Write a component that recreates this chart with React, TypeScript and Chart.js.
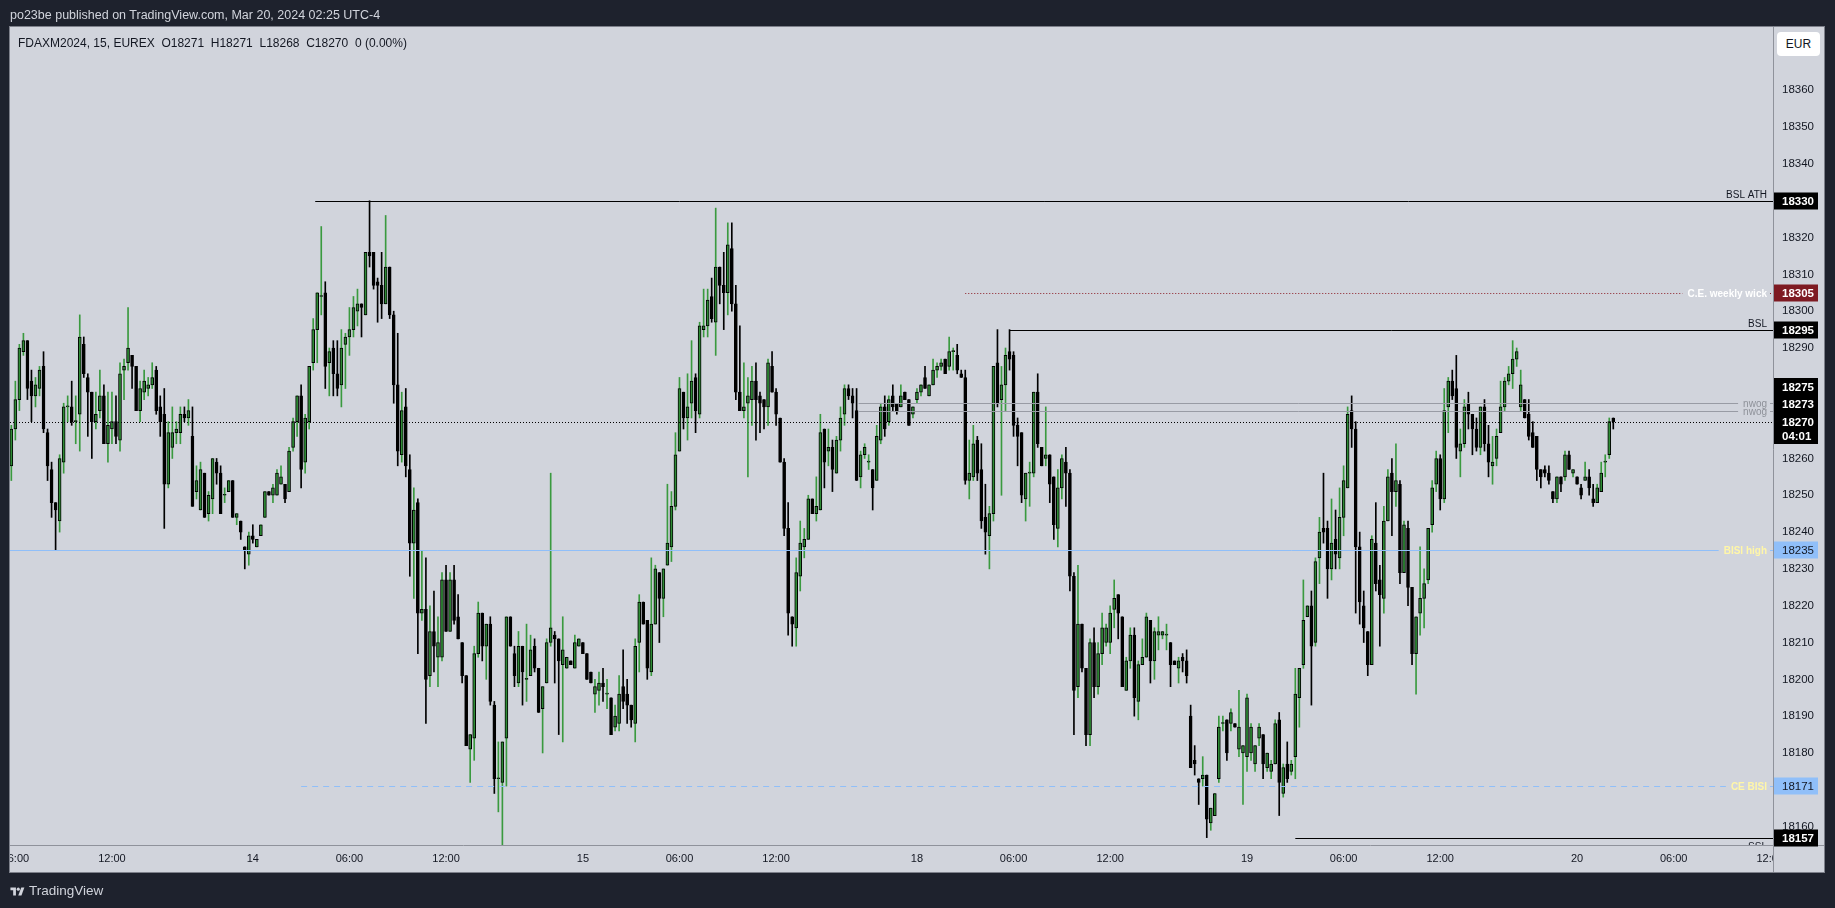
import React, { useEffect, useRef } from "react";
import { Chart, registerables } from "chart.js";

Chart.register(...registerables);

// ---- 15-minute OHLC bars, FDAXM2024 (Mar 13 06:00 -> Mar 20 02:15, UTC-4) ----
const OPEN = [
  18258,18268,18276,18289,18292,18281,18277,18279,18285,18267,
  18257,18248,18243,18259,18274,18274,18270,18272,18291,18282,
  18278,18270,18273,18277,18264,18268,18270,18265,18284,18286,
  18288,18285,18273,18278,18279,18280,18284,18274,18272,18253,
  18263,18267,18267,18272,18271,18266,18251,18246,18256,18245,
  18249,18259,18256,18250,18251,18254,18244,18243,18236,18234,
  18239,18236,18239,18244,18251,18250,18250,18253,18253,18251,
  18263,18270,18277,18259,18270,18286,18295,18304,18305,18286,
  18290,18283,18280,18291,18293,18295,18300,18302,18299,18316,
  18316,18308,18307,18302,18312,18299,18280,18261,18274,18257,
  18237,18248,18218,18219,18201,18213,18206,18206,18227,18213,
  18227,18217,18210,18201,18181,18184,18207,18218,18209,18215,
  18193,18173,18172,18184,18217,18207,18199,18209,18200,18201,
  18209,18203,18192,18199,18210,18212,18211,18204,18203,18205,
  18203,18209,18210,18207,18202,18196,18197,18199,18196,18195,
  18187,18188,18198,18196,18193,18188,18210,18221,18216,18202,
  18215,18229,18222,18231,18236,18247,18262,18278,18271,18275,
  18282,18272,18295,18296,18304,18297,18312,18307,18305,18317,
  18302,18278,18273,18275,18276,18281,18277,18276,18274,18285,
  18278,18271,18259,18241,18217,18214,18228,18236,18238,18249,
  18245,18246,18268,18262,18263,18256,18265,18272,18279,18277,
  18273,18255,18261,18259,18257,18254,18265,18274,18270,18277,
  18275,18274,18278,18276,18272,18276,18278,18282,18277,18280,
  18284,18285,18287,18285,18289,18288,18283,18282,18254,18255,
  18265,18257,18244,18239,18245,18286,18276,18280,18289,18288,
  18269,18267,18249,18256,18256,18278,18263,18260,18261,18255,
  18241,18252,18259,18256,18228,18198,18215,18203,18185,18210,
  18198,18207,18210,18210,18219,18223,18217,18197,18205,18212,
  18194,18204,18206,18216,18205,18212,18212,18212,18210,18205,
  18203,18206,18205,18190,18178,18173,18173,18174,18161,18163,
  18173,18188,18189,18188,18188,18181,18180,18179,18180,18177,
  18184,18185,18176,18175,18177,18189,18169,18177,18175,18179,
  18195,18204,18217,18220,18210,18233,18241,18241,18230,18238,
  18233,18244,18252,18273,18268,18236,18220,18213,18204,18237,
  18227,18222,18243,18256,18251,18253,18229,18241,18225,18207,
  18218,18222,18227,18242,18253,18260,18249,18274,18281,18279,
  18262,18264,18275,18272,18268,18263,18274,18264,18258,18260,
  18267,18274,18281,18283,18287,18274,18276,18272,18267,18266,
  18257,18257,18256,18251,18249,18255,18255,18261,18256,18255,
  18252,18254,18255,18249,18248,18251,18259,18261,18271,
];
const HIGH = [
  18269,18281,18291,18294,18292,18284,18282,18285,18289,18268,
  18259,18248,18261,18275,18277,18281,18277,18299,18293,18283,
  18278,18278,18284,18280,18278,18278,18277,18286,18287,18301,
  18288,18285,18281,18284,18282,18286,18285,18277,18279,18270,
  18274,18270,18274,18274,18276,18274,18258,18259,18256,18251,
  18260,18260,18258,18252,18254,18254,18245,18243,18236,18240,
  18242,18238,18242,18251,18251,18253,18257,18258,18253,18263,
  18271,18277,18280,18272,18285,18298,18305,18323,18308,18290,
  18292,18292,18295,18294,18301,18304,18306,18302,18316,18330,
  18316,18309,18316,18326,18312,18300,18294,18278,18279,18261,
  18252,18249,18235,18233,18220,18224,18217,18229,18231,18229,
  18231,18223,18210,18201,18185,18209,18221,18218,18215,18217,
  18194,18183,18183,18217,18217,18209,18213,18209,18215,18212,
  18211,18203,18198,18211,18256,18213,18211,18217,18206,18205,
  18212,18211,18210,18207,18202,18200,18202,18203,18200,18195,
  18193,18201,18208,18200,18193,18211,18223,18221,18216,18233,
  18231,18229,18230,18253,18251,18267,18282,18278,18283,18292,
  18283,18297,18306,18306,18309,18328,18312,18316,18324,18324,
  18307,18296,18286,18282,18285,18286,18278,18276,18287,18289,
  18279,18271,18260,18248,18217,18233,18243,18241,18250,18249,
  18255,18272,18268,18268,18265,18266,18274,18280,18280,18279,
  18279,18262,18264,18261,18257,18269,18275,18277,18277,18280,
  18275,18280,18278,18276,18274,18279,18280,18285,18280,18287,
  18286,18287,18287,18293,18290,18291,18284,18284,18265,18269,
  18266,18264,18253,18247,18285,18295,18285,18290,18295,18289,
  18271,18267,18256,18259,18278,18283,18263,18274,18261,18255,
  18257,18261,18263,18257,18229,18231,18215,18203,18211,18214,
  18210,18218,18215,18220,18227,18223,18217,18206,18214,18214,
  18205,18211,18218,18216,18214,18217,18213,18215,18210,18205,
  18206,18207,18208,18193,18182,18173,18179,18174,18165,18169,
  18190,18190,18189,18192,18188,18197,18182,18196,18188,18182,
  18188,18185,18180,18178,18189,18191,18177,18183,18178,18203,
  18203,18227,18220,18224,18233,18244,18256,18243,18249,18246,
  18252,18258,18274,18277,18270,18240,18224,18213,18239,18248,
  18231,18247,18257,18260,18264,18254,18243,18243,18225,18217,
  18236,18230,18241,18254,18262,18261,18279,18282,18284,18288,
  18268,18276,18278,18272,18271,18274,18276,18269,18266,18268,
  18281,18282,18285,18292,18290,18284,18276,18276,18270,18266,
  18257,18258,18258,18251,18255,18255,18262,18262,18257,18255,
  18253,18259,18257,18253,18253,18259,18261,18271,18271,
];
const LOW = [
  18254,18265,18273,18288,18276,18270,18274,18277,18267,18254,
  18244,18235,18240,18256,18270,18269,18264,18262,18282,18266,
  18260,18268,18271,18264,18259,18264,18264,18262,18276,18284,
  18279,18273,18270,18276,18277,18279,18272,18266,18241,18252,
  18260,18264,18264,18270,18269,18247,18249,18246,18244,18243,
  18245,18253,18245,18248,18251,18244,18242,18238,18230,18231,
  18237,18236,18239,18244,18250,18248,18250,18253,18248,18251,
  18262,18266,18252,18256,18268,18284,18286,18299,18279,18277,
  18277,18277,18274,18279,18288,18293,18296,18293,18299,18312,
  18306,18297,18298,18302,18298,18275,18258,18259,18255,18228,
  18222,18207,18216,18188,18198,18202,18198,18205,18213,18213,
  18215,18211,18199,18182,18172,18178,18206,18205,18200,18193,
  18169,18164,18155,18171,18209,18198,18198,18193,18194,18201,
  18202,18191,18180,18199,18209,18199,18185,18183,18203,18204,
  18203,18209,18207,18200,18199,18191,18193,18194,18192,18185,
  18186,18186,18192,18188,18187,18183,18202,18215,18200,18201,
  18215,18210,18217,18231,18232,18246,18262,18268,18265,18271,
  18267,18271,18293,18293,18297,18288,18302,18295,18299,18300,
  18276,18273,18271,18255,18269,18265,18267,18268,18269,18278,
  18269,18259,18239,18212,18209,18209,18224,18233,18238,18245,
  18243,18246,18252,18258,18251,18256,18262,18269,18276,18271,
  18254,18252,18260,18257,18246,18254,18264,18266,18269,18273,
  18272,18274,18276,18269,18271,18275,18277,18279,18277,18280,
  18282,18284,18283,18284,18284,18283,18282,18253,18249,18254,
  18254,18241,18234,18230,18243,18274,18250,18273,18284,18266,
  18258,18248,18243,18247,18255,18263,18258,18258,18248,18238,
  18236,18249,18247,18224,18185,18195,18202,18182,18182,18195,
  18196,18204,18209,18207,18214,18211,18198,18197,18203,18190,
  18189,18204,18206,18199,18200,18208,18211,18208,18198,18204,
  18199,18202,18199,18176,18174,18166,18171,18157,18159,18163,
  18172,18186,18178,18186,18187,18179,18166,18175,18178,18175,
  18182,18173,18175,18173,18177,18163,18168,18172,18174,18173,
  18187,18203,18217,18193,18209,18226,18237,18222,18227,18230,
  18230,18239,18252,18263,18218,18215,18210,18201,18204,18224,
  18209,18218,18243,18239,18247,18226,18229,18220,18204,18196,
  18212,18214,18226,18240,18251,18246,18248,18267,18276,18260,
  18255,18263,18268,18261,18262,18261,18262,18255,18253,18258,
  18267,18273,18280,18279,18285,18273,18271,18265,18263,18254,
  18252,18255,18253,18248,18248,18251,18254,18257,18255,18253,
  18249,18254,18250,18247,18248,18251,18255,18260,18268,
];
const CLOSE = [
  18268,18276,18290,18292,18279,18277,18280,18284,18268,18258,
  18248,18246,18260,18274,18274,18270,18270,18293,18283,18278,
  18270,18272,18277,18264,18269,18270,18266,18283,18285,18290,
  18285,18273,18279,18281,18280,18282,18273,18270,18253,18267,
  18267,18268,18272,18271,18273,18247,18254,18257,18244,18250,
  18260,18256,18245,18250,18254,18244,18245,18240,18235,18239,
  18238,18238,18242,18251,18250,18252,18256,18255,18249,18262,
  18270,18277,18257,18271,18285,18295,18305,18304,18285,18289,
  18283,18279,18290,18293,18295,18301,18302,18301,18316,18315,
  18307,18307,18302,18312,18299,18280,18262,18273,18258,18237,
  18246,18218,18219,18200,18213,18209,18210,18227,18213,18227,
  18216,18211,18201,18182,18185,18207,18218,18209,18215,18194,
  18173,18173,18183,18217,18209,18201,18209,18202,18200,18208,
  18203,18191,18198,18210,18214,18211,18205,18208,18206,18204,
  18210,18211,18207,18200,18199,18198,18199,18198,18196,18185,
  18190,18196,18194,18193,18189,18209,18221,18215,18203,18215,
  18230,18222,18230,18237,18247,18261,18279,18271,18274,18281,
  18273,18296,18296,18303,18298,18312,18307,18305,18318,18302,
  18278,18273,18274,18277,18281,18276,18275,18274,18286,18278,
  18272,18259,18241,18218,18215,18229,18237,18238,18249,18245,
  18247,18267,18259,18263,18257,18265,18271,18279,18277,18275,
  18254,18261,18263,18259,18252,18266,18274,18268,18276,18274,
  18273,18277,18276,18269,18274,18278,18280,18279,18280,18284,
  18285,18286,18283,18289,18289,18284,18282,18254,18256,18264,
  18256,18243,18240,18245,18285,18275,18280,18288,18287,18269,
  18266,18250,18256,18256,18278,18264,18258,18261,18253,18242,
  18252,18260,18256,18228,18197,18215,18203,18185,18210,18198,
  18207,18214,18214,18218,18222,18218,18198,18205,18212,18195,
  18204,18206,18217,18205,18213,18213,18213,18212,18204,18204,
  18205,18205,18201,18176,18177,18172,18174,18162,18165,18169,
  18187,18188,18180,18191,18187,18187,18182,18195,18187,18182,
  18187,18177,18180,18177,18188,18172,18176,18173,18177,18196,
  18203,18216,18220,18209,18232,18240,18240,18230,18237,18234,
  18244,18254,18272,18268,18236,18221,18214,18204,18238,18226,
  18223,18243,18255,18251,18254,18229,18242,18225,18207,18217,
  18222,18226,18241,18252,18260,18249,18273,18281,18277,18263,
  18264,18274,18272,18268,18263,18274,18264,18259,18259,18266,
  18274,18281,18283,18287,18289,18280,18271,18266,18263,18257,
  18255,18256,18254,18249,18255,18253,18261,18257,18257,18253,
  18250,18255,18252,18248,18252,18256,18259,18270,18270,
];

// time-axis ticks (bar index -> label)
const TIME_TICK_INDEX = [1, 25, 60, 84, 108, 142, 166, 190, 225, 249, 273, 307, 331, 355, 389, 413, 437];
const TIME_TICK_LABELS = ["06:00", "12:00", "14", "06:00", "12:00", "15", "06:00", "12:00", "18", "06:00", "12:00", "19", "06:00", "12:00", "20", "06:00", "12:00"];

// price-axis ticks
const PRICE_TICKS = [18160, 18170, 18180, 18190, 18200, 18210, 18220, 18230, 18240, 18250, 18260, 18270, 18280, 18290, 18300, 18310, 18320, 18330, 18340, 18350, 18360];

// horizontal drawn levels
const LEVEL_NAMES = ["BSL ATH", "C.E. weekly wick", "BSL", "nwog", "nwog", "BISI high", "CE BISI", "SSL"];
const LEVEL_PRICES = [18330, 18305, 18295, 18275, 18273, 18235, 18171, 18157];
const LEVEL_FROM_BAR = [75.5, 237, 248, 210.5, 210.5, -1, 72, 319];

const COUNTDOWN = "04:01";
const TITLE = "po23be published on TradingView.com, Mar 20, 2024 02:25 UTC-4";
const SYMBOL = "FDAXM2024, 15, EUREX";

// ---- styles ----
const FONT = "'Liberation Sans', Arial, sans-serif";
const DARK = "#1e222d";
const PANEL = "#d1d4dc";
const TEXT = "#131722";
const UP_BODY = "#2e8b35";
const UP_WICK = "#3a9a3f";
const DOWN = "#000000";
const LEVEL_STYLE = [
  { line: "#000000", dash: [] as number[], text: "#131722", place: "above", bold: false, box: "#000000", boxText: "#ffffff" },
  { line: "#8b1c26", dash: [1, 2], text: "#ffffff", place: "inline", bold: true, box: "#7e1a22", boxText: "#ffffff" },
  { line: "#000000", dash: [], text: "#131722", place: "above", bold: false, box: "#000000", boxText: "#ffffff" },
  { line: "#989ba4", dash: [], text: "#8e9199", place: "inline", bold: false, box: "", boxText: "" },
  { line: "#989ba4", dash: [], text: "#8e9199", place: "inline", bold: false, box: "", boxText: "" },
  { line: "#90bff9", dash: [], text: "#fff6a8", place: "inline", bold: true, box: "#90bff9", boxText: "#131722" },
  { line: "#90bff9", dash: [6, 5], text: "#fff6a8", place: "inline", bold: true, box: "#90bff9", boxText: "#131722" },
  { line: "#000000", dash: [], text: "#131722", place: "below", bold: false, box: "#000000", boxText: "#ffffff" },
];

const tvPlugin = {
  id: "tvFrame",
  beforeDraw(chart: any) {
    const { ctx, chartArea: ca } = chart;
    const xs = chart.scales.x;
    const ys = chart.scales.y;
    ctx.save();
    ctx.fillStyle = DARK;
    ctx.fillRect(0, 0, chart.width, chart.height);
    ctx.fillStyle = PANEL;
    ctx.fillRect(ca.left, ca.top, ys.right - ca.left, xs.bottom - ca.top);
    ctx.restore();
  },
  afterDatasetsDraw(chart: any) {
    const { ctx, chartArea: ca } = chart;
    const xs = chart.scales.x;
    const ys = chart.scales.y;
    ctx.save();
    ctx.beginPath();
    ctx.rect(ca.left, ca.top, ca.right - ca.left, ca.bottom - ca.top);
    ctx.clip();
    ctx.lineWidth = 1;
    // last-price dotted line
    const yl = Math.round(ys.getPixelForValue(CLOSE[CLOSE.length - 1])) + 0.5;
    ctx.strokeStyle = "#000";
    ctx.setLineDash([1, 2]);
    ctx.beginPath();
    ctx.moveTo(ca.left, yl);
    ctx.lineTo(ca.right, yl);
    ctx.stroke();
    LEVEL_PRICES.forEach((p, i) => {
      const st = LEVEL_STYLE[i];
      const y = Math.round(ys.getPixelForValue(p)) + 0.5;
      const x0 = Math.max(ca.left, xs.getPixelForValue(LEVEL_FROM_BAR[i]));
      const xr = ca.right - 6;
      ctx.font = `${st.bold ? "bold " : ""}10px ${FONT}`;
      const tw = ctx.measureText(LEVEL_NAMES[i]).width;
      ctx.strokeStyle = st.line;
      ctx.setLineDash(st.dash);
      ctx.beginPath();
      if (st.place === "inline") {
        ctx.moveTo(x0, y);
        ctx.lineTo(xr - tw - 5, y);
        ctx.moveTo(xr + 3, y);
        ctx.lineTo(ca.right, y);
      } else {
        ctx.moveTo(x0, y);
        ctx.lineTo(ca.right, y);
      }
      ctx.stroke();
      ctx.setLineDash([]);
      ctx.fillStyle = st.text;
      ctx.textAlign = "right";
      if (st.place === "inline") {
        ctx.textBaseline = "middle";
        ctx.fillText(LEVEL_NAMES[i], xr, y + 0.5);
      } else if (st.place === "above") {
        ctx.textBaseline = "alphabetic";
        ctx.fillText(LEVEL_NAMES[i], xr, y - 4);
      } else {
        ctx.textBaseline = "top";
        ctx.fillText(LEVEL_NAMES[i], xr, y + 4);
      }
    });
    ctx.restore();
  },
  afterDraw(chart: any) {
    const { ctx, chartArea: ca } = chart;
    const xs = chart.scales.x;
    const ys = chart.scales.y;
    const panelR = ys.right;
    const panelB = xs.bottom;
    ctx.save();
    // clip overflowing time labels
    ctx.fillStyle = DARK;
    ctx.fillRect(0, xs.top, ca.left, xs.height + 2);
    ctx.fillStyle = PANEL;
    ctx.fillRect(ca.right + 1, xs.top + 1, panelR - ca.right - 1, xs.height - 1);
    // axis lines and frame
    ctx.lineWidth = 1;
    ctx.strokeStyle = "#8f929b";
    ctx.beginPath();
    ctx.moveTo(ca.right + 0.5, ca.top);
    ctx.lineTo(ca.right + 0.5, panelB);
    ctx.moveTo(ca.left, ca.bottom + 0.5);
    ctx.lineTo(panelR, ca.bottom + 0.5);
    ctx.stroke();
    ctx.strokeStyle = "#7d808a";
    ctx.strokeRect(ca.left - 0.5, ca.top - 0.5, panelR - ca.left + 1, panelB - ca.top + 1);

    // price boxes on the axis
    const bx = ca.right + 1;
    const bw = 44;
    const drawBox = (y: number, txt: string, bg: string, fg: string, bold: boolean) => {
      ctx.fillStyle = bg;
      ctx.fillRect(bx, Math.round(y) - 8.5, bw, 17);
      ctx.fillStyle = fg;
      ctx.font = `${bold ? "bold " : ""}11.5px ${FONT}`;
      ctx.textAlign = "left";
      ctx.textBaseline = "middle";
      ctx.fillText(txt, ca.right + 9, Math.round(y) + 0.5);
    };
    LEVEL_PRICES.forEach((p, i) => {
      const st = LEVEL_STYLE[i];
      if (!st.box) return;
      drawBox(ys.getPixelForValue(p), String(p), st.box, st.boxText, st.boxText === "#ffffff");
    });
    // stacked last-price block
    const last = CLOSE[CLOSE.length - 1];
    const yLast = Math.round(ys.getPixelForValue(last));
    const rows = [
      { y: yLast - 35, t: String(LEVEL_PRICES[3]) },
      { y: yLast - 17.5, t: String(LEVEL_PRICES[4]) },
      { y: yLast, t: String(last) },
      { y: yLast + 14, t: COUNTDOWN },
    ];
    ctx.fillStyle = "#000";
    ctx.fillRect(bx, yLast - 44, bw, 66);
    ctx.fillStyle = "#fff";
    ctx.font = `bold 11.5px ${FONT}`;
    ctx.textAlign = "left";
    ctx.textBaseline = "middle";
    rows.forEach((r) => ctx.fillText(r.t, ca.right + 9, r.y + 0.5));
    ctx.restore();
  },
};

export default function App() {
  const ref = useRef<HTMLCanvasElement>(null);

  useEffect(() => {
    const canvas = ref.current;
    if (!canvas) return;
    const idx = OPEN.map((_, i) => i);
    const isUp = (i: number) => CLOSE[i] >= OPEN[i];
    const chart = new Chart(canvas, {
      type: "bar",
      data: {
        datasets: [
          {
            label: "wick",
            data: idx.map((i) => ({ x: i, y: [LOW[i], HIGH[i]] })) as any,
            backgroundColor: (c: any) => (isUp(c.dataIndex) ? UP_WICK : DOWN),
            borderWidth: 0,
            barThickness: 1,
            grouped: false,
            order: 2,
          } as any,
          {
            label: "body",
            data: idx.map((i) => ({ x: i, y: [OPEN[i], CLOSE[i]] })) as any,
            backgroundColor: (c: any) => (isUp(c.dataIndex) ? UP_BODY : DOWN),
            borderColor: "#000000",
            borderWidth: 1,
            borderSkipped: false,
            barThickness: 3,
            minBarLength: 1,
            grouped: false,
            order: 1,
          } as any,
        ],
      },
      options: {
        animation: false,
        responsive: false,
        maintainAspectRatio: false,
        devicePixelRatio: 1,
        events: [],
        layout: { padding: { left: 10, right: 11, top: 27, bottom: 36 } },
        plugins: { legend: { display: false }, tooltip: { enabled: false } },
        scales: {
          x: {
            type: "linear",
            bounds: "data",
            min: -0.33,
            max: 437.68,
            offset: false,
            grid: { display: false, drawTicks: false },
            border: { display: false },
            afterBuildTicks: (s: any) => {
              s.ticks = TIME_TICK_INDEX.map((v) => ({ value: v }));
            },
            afterFit: (s: any) => {
              s.height = 27;
              s.paddingLeft = 0;
              s.paddingRight = 0;
            },
            ticks: {
              autoSkip: false,
              maxRotation: 0,
              minRotation: 0,
              padding: 7,
              color: TEXT,
              font: { family: FONT, size: 11 },
              callback: (v: any) => {
                const j = TIME_TICK_INDEX.indexOf(Number(v));
                return j >= 0 ? TIME_TICK_LABELS[j] : "";
              },
            },
          },
          y: {
            type: "linear",
            position: "right",
            bounds: "data",
            min: 18155,
            max: 18377.2,
            grid: { display: false, drawTicks: false },
            border: { display: false },
            afterBuildTicks: (s: any) => {
              s.ticks = PRICE_TICKS.map((v) => ({ value: v }));
            },
            afterFit: (s: any) => {
              s.width = 51;
              s.paddingTop = 0;
              s.paddingBottom = 0;
            },
            ticks: {
              autoSkip: false,
              padding: 9,
              color: TEXT,
              font: { family: FONT, size: 11.5 },
              callback: (v: any) => String(v),
            },
          },
        },
      } as any,
      plugins: [tvPlugin],
    });
    return () => chart.destroy();
  }, []);

  const n = OPEN.length - 1;
  const chg = CLOSE[n] - CLOSE[n - 1];
  const pct = ((chg / CLOSE[n - 1]) * 100).toFixed(2);
  const symbolLine = `${SYMBOL}  O${OPEN[n]}  H${HIGH[n]}  L${LOW[n]}  C${CLOSE[n]}  ${chg} (${pct}%)`;

  return (
    <div
      style={{
        position: "fixed",
        left: 0,
        top: 0,
        width: 1835,
        height: 908,
        background: DARK,
        overflow: "hidden",
        fontFamily: FONT,
      }}
    >
      <canvas ref={ref} width={1835} height={908} style={{ position: "absolute", left: 0, top: 0, width: 1835, height: 908 }} />
      <div style={{ position: "absolute", left: 10, top: 7, color: "#d1d4dc", fontSize: 12.5, lineHeight: "16px", whiteSpace: "pre" }}>
        {TITLE}
      </div>
      <div style={{ position: "absolute", left: 18, top: 35, color: TEXT, fontSize: 12, lineHeight: "16px", whiteSpace: "pre" }}>
        {symbolLine}
      </div>
      <div
        style={{
          position: "absolute",
          left: 1777,
          top: 32,
          width: 43,
          height: 24,
          background: "#ffffff",
          borderRadius: 4,
          color: TEXT,
          fontSize: 12,
          lineHeight: "24px",
          textAlign: "center",
        }}
      >
        EUR
      </div>
      <div
        style={{
          position: "absolute",
          left: 10,
          top: 883,
          height: 16,
          display: "flex",
          alignItems: "center",
          gap: 4,
          color: "#d1d4dc",
          fontSize: 13.5,
          lineHeight: "16px",
        }}
      >
        <svg width="15" height="11" viewBox="0 0 36 28">
          <path d="M14 24H7V11H0V4h14v20z" fill="#d1d4dc" />
          <circle cx="20" cy="8" r="4" fill="#d1d4dc" />
          <path d="M28 24h-8l7.5-20h8L28 24z" fill="#d1d4dc" />
        </svg>
        <span>TradingView</span>
      </div>
    </div>
  );
}
